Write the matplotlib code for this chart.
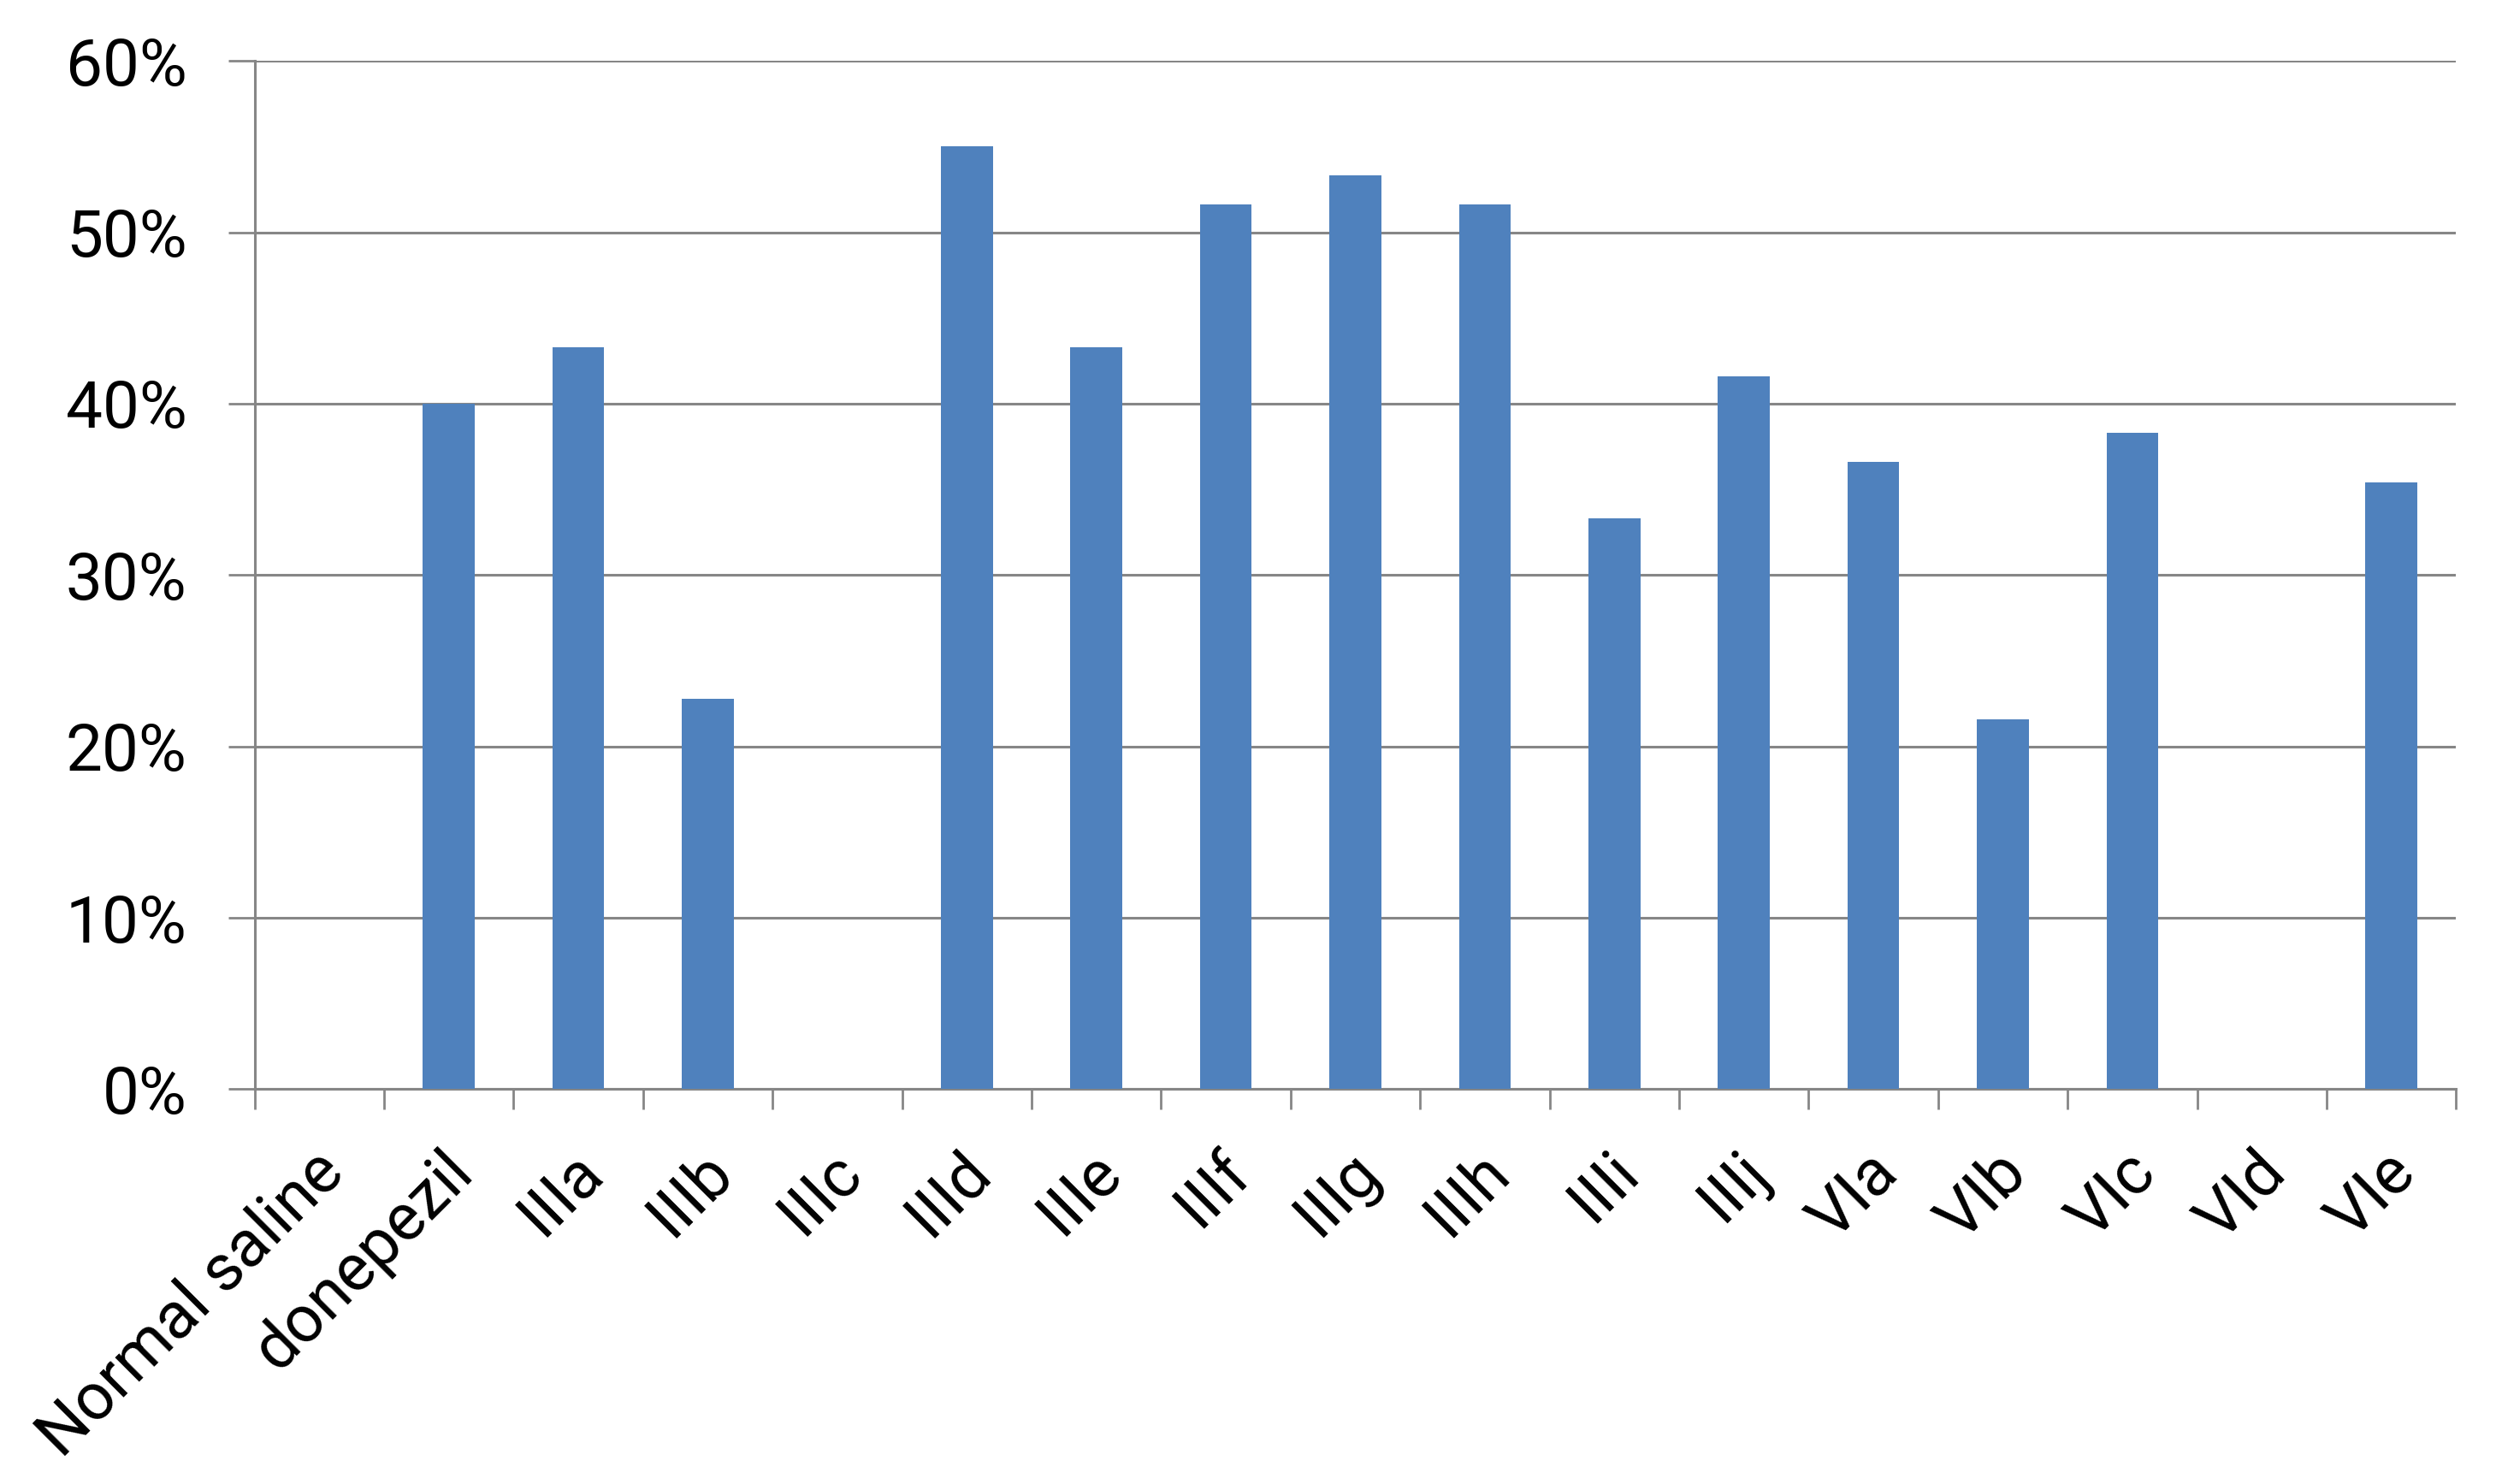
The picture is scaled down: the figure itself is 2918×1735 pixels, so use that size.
import matplotlib.pyplot as plt
import matplotlib.transforms as mtransforms
import numpy as np

categories = ["Normal saline", "donepezil", "IIIa", "IIIb", "IIIc", "IIId", "IIIe",
              "IIIf", "IIIg", "IIIh", "IIIi", "IIIj", "VIa", "VIb", "VIc", "VId", "VIe"]
values = [0, 40.0, 43.3, 22.8, 0, 55.0, 43.3, 51.6, 53.3, 51.6, 33.3, 41.6,
          36.6, 21.6, 38.3, 0, 35.4]
y_ticks = [0, 10, 20, 30, 40, 50, 60]

bar_color = "#4F81BD"
grid_color = "#868686"

plt.rcParams["font.family"] = ["Roboto", "DejaVu Sans"]

fig = plt.figure(figsize=(29.18, 17.35), dpi=100)
ax = fig.add_axes([0.102, 0.266, 0.882, 0.693])

x = np.arange(len(categories))
ax.bar(x, values, width=0.4, color=bar_color, zorder=3)

ax.set_xlim(-0.5, len(categories) - 0.5)
ax.set_ylim(0, 60)

# y axis: percent labels and gridlines
ax.set_yticks(y_ticks)
ax.set_yticklabels([f"{v}%" for v in y_ticks], fontsize=55)
ax.yaxis.grid(True, color=grid_color, linewidth=2.2)
ax.set_axisbelow(True)
ax.tick_params(axis="y", length=22, width=2.0, color=grid_color, pad=35)

# x axis: ticks at category boundaries, labels at centres
ax.set_xticks(np.arange(-0.5, len(categories)))
ax.set_xticklabels([])
ax.tick_params(axis="x", which="major", length=17, width=2.0, color=grid_color)
ax.set_xticks(x, minor=True)
ax.set_xticklabels(categories, minor=True, rotation=45, ha="right", va="top",
                   rotation_mode="anchor", fontsize=55)
ax.tick_params(axis="x", which="minor", length=0, pad=43)
offset = mtransforms.ScaledTranslation(-0.09, 0, fig.dpi_scale_trans)
for lbl in ax.get_xticklabels(minor=True):
    lbl.set_transform(lbl.get_transform() + offset)

for side in ["top", "right"]:
    ax.spines[side].set_visible(False)
for side in ["left", "bottom"]:
    ax.spines[side].set_color(grid_color)
    ax.spines[side].set_linewidth(2.2)

fig.savefig("out.png", dpi=100)
